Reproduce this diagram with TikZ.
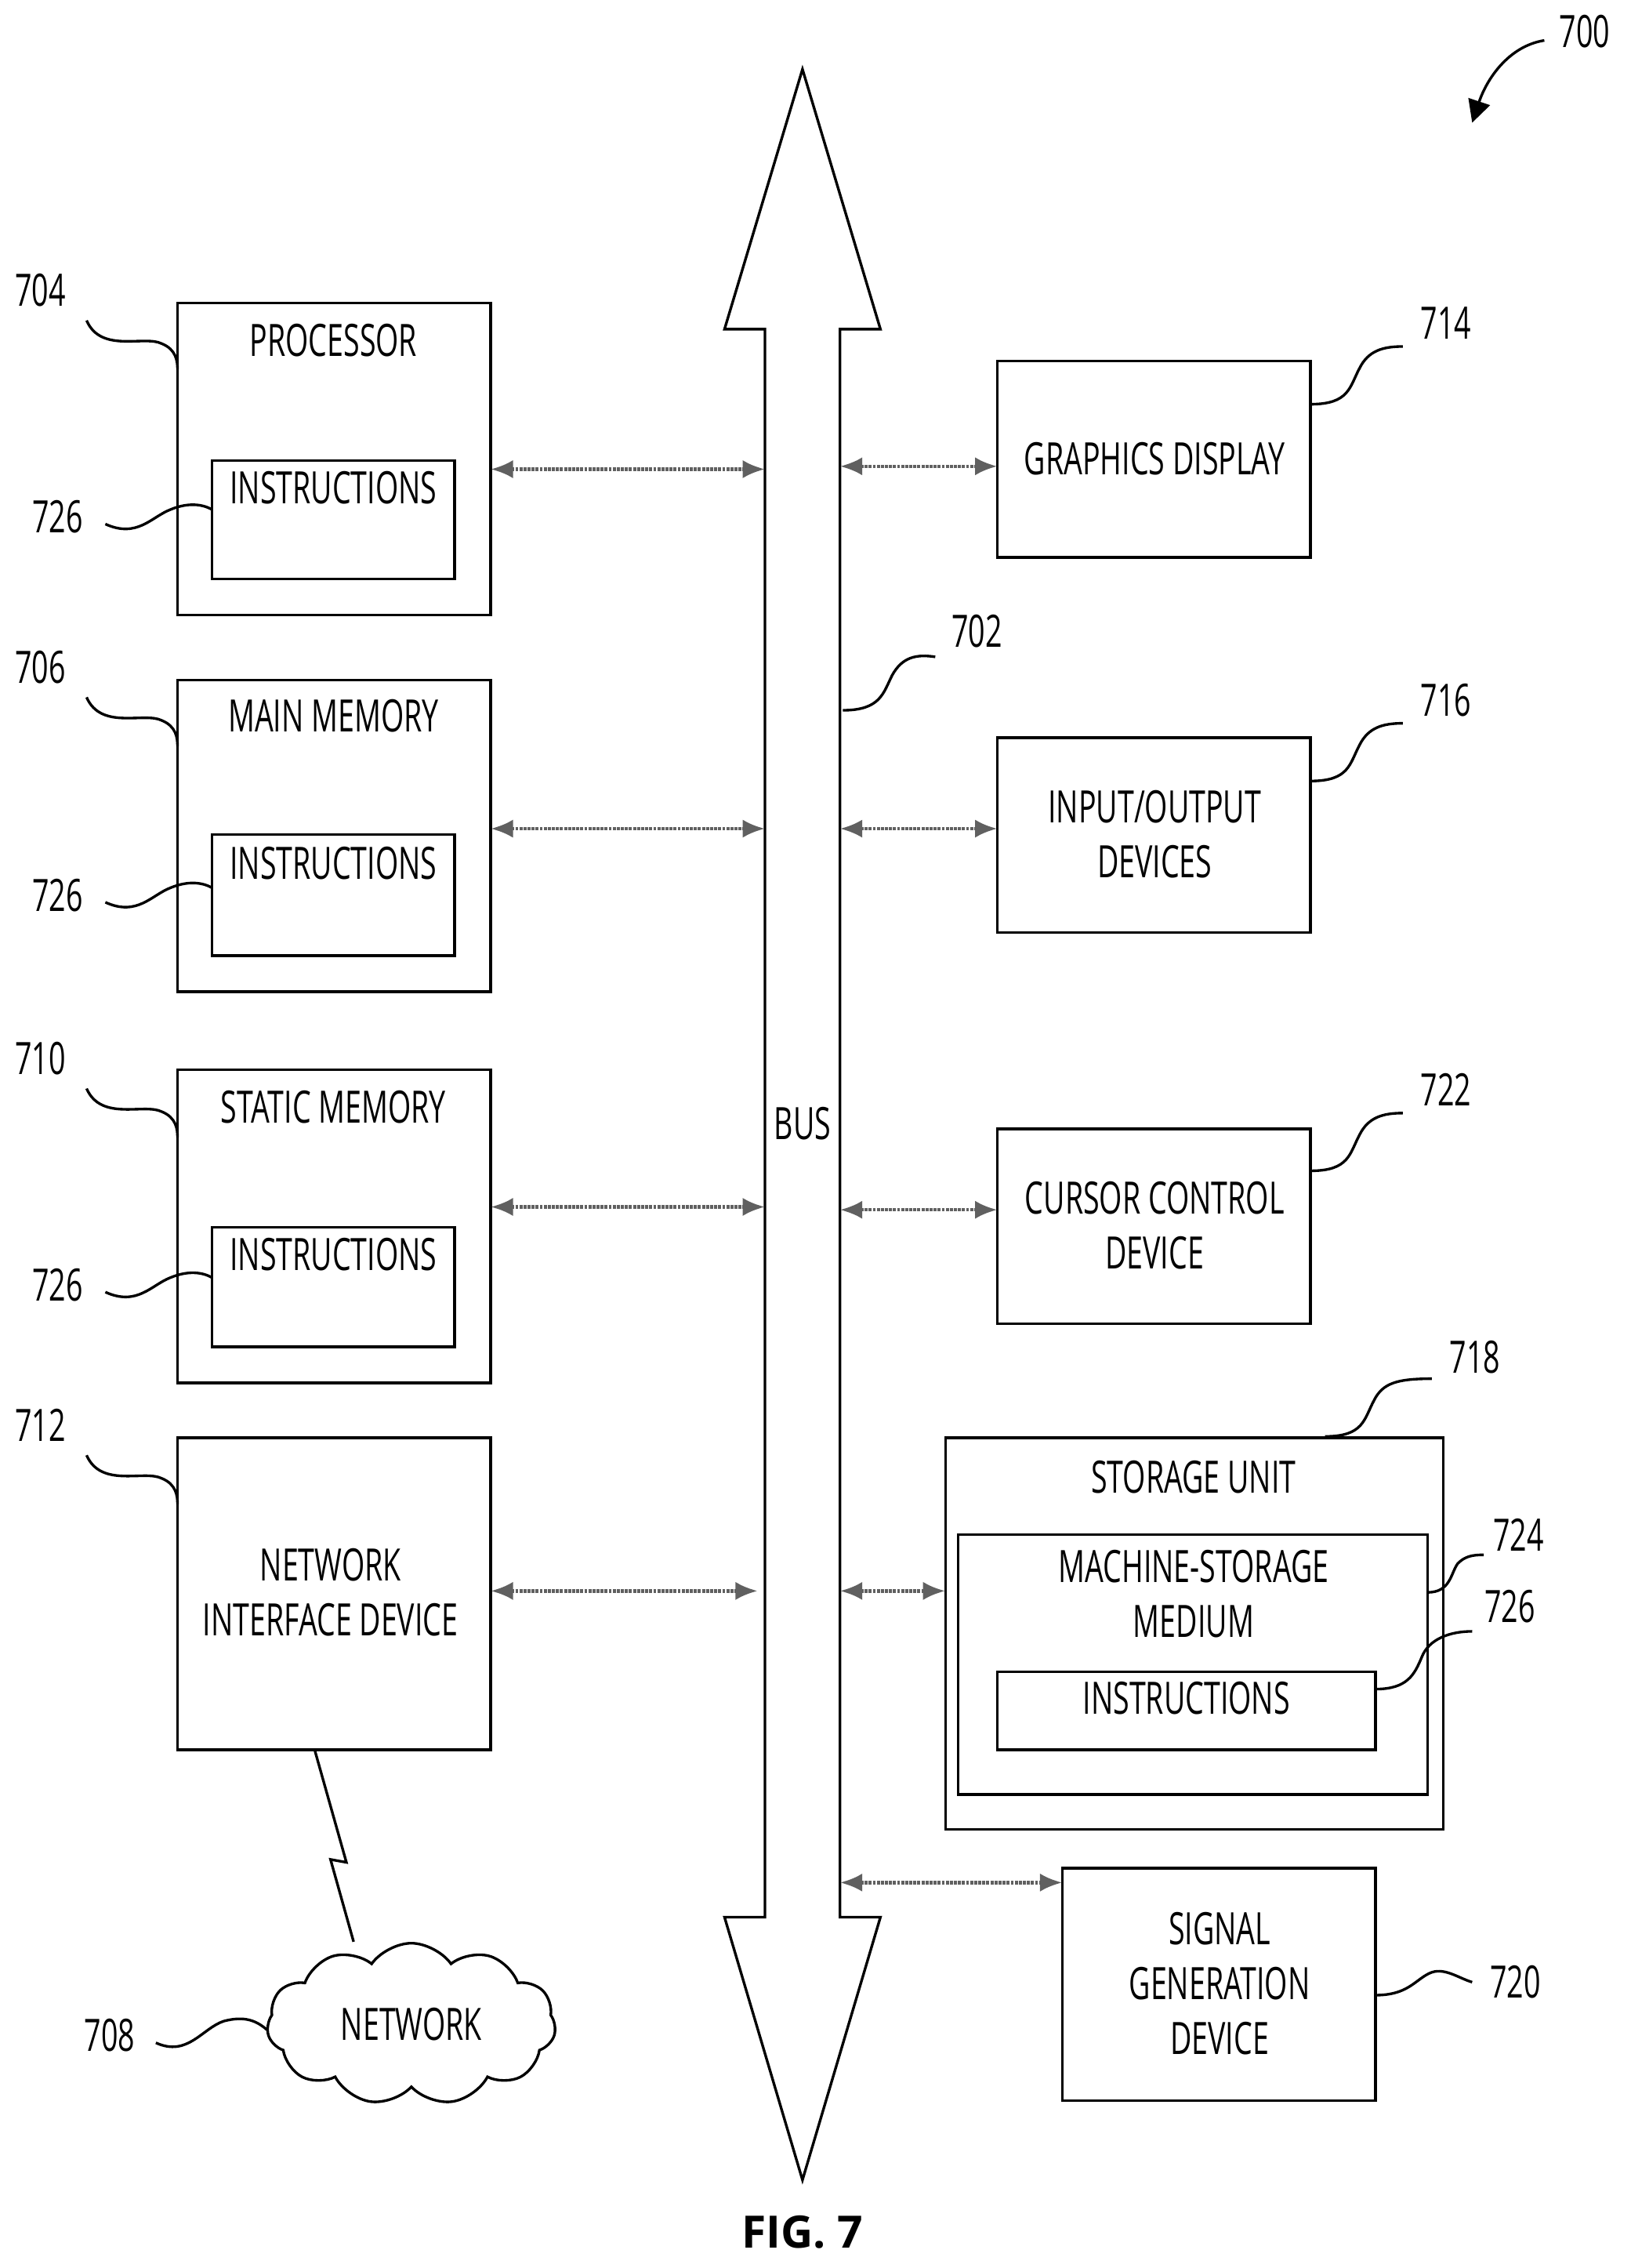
\documentclass[tikz,border=0pt]{standalone}
\usepackage{fontspec}
\setmainfont[FakeStretch=0.66]{Open Sans}
\newfontfamily\figfont{Open Sans}
\usetikzlibrary{arrows.meta,shapes.symbols}
\begin{document}
\begin{tikzpicture}[x=0.05cm,y=-0.05cm,line width=2.6pt,
  box/.style={draw},
  txt/.style={font=\fontsize{44}{54}\selectfont,align=center,inner sep=0},
  lbl/.style={font=\fontsize{44}{54}\selectfont,inner sep=0},
  conn/.style={draw=gray!75!black,line width=3.5pt,dash pattern=on 3pt off 1pt,{Latex[length=22pt,width=18pt]}-{Latex[length=22pt,width=18pt]}},
  lead/.style={line width=2.6pt}]
\useasboundingbox (0,0) rectangle (1130,1571);
% bus
\draw[fill=white] (556,48) -- (610,228) -- (582,228) -- (582,1328) -- (610,1328) -- (556,1510) -- (502,1328) -- (530,1328) -- (530,228) -- (502,228) -- cycle;
\node[txt] (bus) at (556,778) {BUS};
% left boxes
\draw (123,210) rectangle (340,426); \draw (147,319) rectangle (315,401);
\node[txt] (proc) at (231,236) {PROCESSOR}; \node[txt] at (231,338) {INSTRUCTIONS};
\draw (123,471) rectangle (340,687); \draw (147,578) rectangle (315,662);
\node[txt] (mm) at (231,496) {MAIN MEMORY}; \node[txt] at (231,598) {INSTRUCTIONS};
\draw (123,741) rectangle (340,958); \draw (147,850) rectangle (315,933);
\node[txt] (sm) at (231,767) {STATIC MEMORY}; \node[txt] at (231,869) {INSTRUCTIONS};
\draw (123,996) rectangle (340,1212);
\node[txt] (nid) at (229,1103) {NETWORK\\INTERFACE DEVICE};
% right boxes
\draw (691,250) rectangle (908,386); \node[txt] (gd) at (800,318) {GRAPHICS DISPLAY};
\draw (691,511) rectangle (908,646); \node[txt] (io) at (800,578) {INPUT/OUTPUT\\DEVICES};
\draw (691,782) rectangle (908,917); \node[txt] (cc) at (800,849) {CURSOR CONTROL\\DEVICE};
\draw (655,996) rectangle (1000,1267); \node[txt] (su) at (827,1023) {STORAGE UNIT};
\draw (664,1063) rectangle (989,1243); \node[txt] (msm) at (827,1104) {MACHINE-STORAGE\\MEDIUM};
\draw (691,1158) rectangle (953,1212); \node[txt] (ins4) at (822,1176) {INSTRUCTIONS};
\draw (736,1294) rectangle (953,1455); \node[txt] (sg) at (845,1374) {SIGNAL\\GENERATION\\DEVICE};
% connectors
\coordinate (a1) at (340,325); \coordinate (b1) at (530,325);
\coordinate (a2) at (340,574); \coordinate (b2) at (530,574);
\coordinate (a3) at (340,836); \coordinate (b3) at (530,836);
\coordinate (a4) at (340,1102); \coordinate (b4) at (525,1102);
\coordinate (c1) at (582,323); \coordinate (d1) at (691,323);
\coordinate (c2) at (582,574); \coordinate (d2) at (691,574);
\coordinate (c3) at (582,838); \coordinate (d3) at (691,838);
\coordinate (c4) at (582,1102); \coordinate (d4) at (655,1102);
\coordinate (c5) at (582,1304); \coordinate (d5) at (736,1304);
\foreach \p/\q in {a1/b1,a2/b2,a3/b3,a4/b4,c1/d1,c2/d2,c3/d3,c4/d4,c5/d5} \draw[conn] (\p) -- (\q);
% network
\node[cloud,draw,cloud puffs=11,cloud puff arc=110,aspect=1.8,minimum width=10cm,minimum height=5.6cm,txt] (net) at (285,1402) {NETWORK};
\draw (218,1212) -- (240,1290) -- (229,1288) -- (245,1345);
% labels and leaders
\node[lbl] at (28,201) {704}; \draw[lead] (60,222) .. controls (70,245) and (100,232) .. (112,238) .. controls (122,242) and (123,250) .. (123,256);
\node[lbl] at (28,462) {706}; \draw[lead] (60,483) .. controls (70,506) and (100,493) .. (112,499) .. controls (122,503) and (123,511) .. (123,517);
\node[lbl] at (28,733) {710}; \draw[lead] (60,754) .. controls (70,777) and (100,764) .. (112,770) .. controls (122,774) and (123,782) .. (123,788);
\node[lbl] at (28,987) {712}; \draw[lead] (60,1008) .. controls (70,1031) and (100,1018) .. (112,1024) .. controls (122,1028) and (123,1036) .. (123,1042);
\foreach \y in {358,620,890} {\node[lbl] at (40,\y) {726}; \draw[lead] (73,\y+5) .. controls (95,\y+15) and (105,\y) .. (118,\y-5) .. controls (130,\y-10) and (140,\y-9) .. (147,\y-5);}
\node[lbl] at (76,1410) {708}; \draw[lead] (108,1415) .. controls (130,1425) and (140,1405) .. (155,1400) .. controls (170,1396) and (178,1400) .. (185,1406);
\node[lbl] at (677,437) {702}; \draw[lead] (584,492) .. controls (610,492) and (612,480) .. (618,468) .. controls (625,455) and (635,453) .. (648,455);
\node[lbl] at (1002,224) {714}; \draw[lead] (908,280) .. controls (935,280) and (935,268) .. (942,255) .. controls (948,243) and (958,240) .. (972,240);
\node[lbl] at (1002,485) {716}; \draw[lead] (908,541) .. controls (935,541) and (935,529) .. (942,516) .. controls (948,504) and (958,501) .. (972,501);
\node[lbl] at (1002,755) {722}; \draw[lead] (908,811) .. controls (935,811) and (935,799) .. (942,786) .. controls (948,774) and (958,771) .. (972,771);
\node[lbl] at (1022,940) {718}; \draw[lead] (918,995) .. controls (945,995) and (945,983) .. (952,970) .. controls (958,958) and (968,955) .. (992,955);
\node[lbl] at (1052,1063) {724}; \draw[lead] (989,1103) .. controls (1005,1103) and (1005,1090) .. (1010,1083) .. controls (1015,1078) and (1020,1077) .. (1028,1077);
\node[lbl] at (1046,1113) {726}; \draw[lead] (953,1170) .. controls (975,1170) and (980,1160) .. (985,1148) .. controls (990,1135) and (1005,1130) .. (1020,1130);
\node[lbl] at (1050,1373) {720}; \draw[lead] (953,1382) .. controls (975,1382) and (980,1372) .. (990,1367) .. controls (1000,1362) and (1010,1370) .. (1020,1373);
\node[lbl] at (1098,22) {700}; \draw[lead,-{Triangle[length=22pt,width=22pt]}] (1070,28) .. controls (1045,32) and (1030,55) .. (1020,85);
\node[font=\figfont\fontsize{44}{54}\selectfont\bfseries,inner sep=0] (fig) at (556,1546) {FIG. 7};
\end{tikzpicture}
\end{document}
